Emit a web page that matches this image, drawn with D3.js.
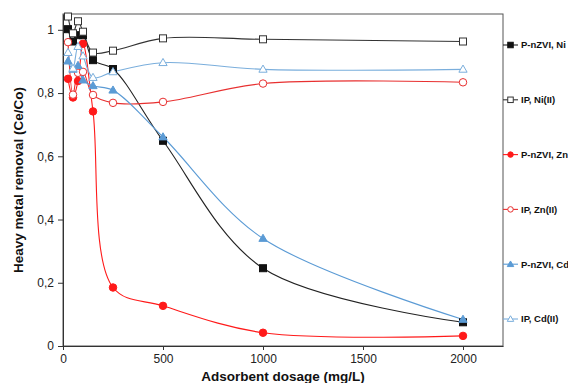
<!DOCTYPE html>
<html>
<head>
<meta charset="utf-8">
<script src="https://cdn.jsdelivr.net/npm/d3@7"></script>
<style>
  body { margin: 0; background: #fff; }
  svg { display: block; font-family: "Liberation Sans", Arial, sans-serif; }
</style>
</head>
<body>
<svg id="chart" width="568" height="383"></svg>
<script>
// dosage (mg/L)
const dosage = [25, 50, 75, 100, 150, 250, 500, 1000, 2000];

// Ce/Co per series
const nzviNi = [1.002, 0.963, 0.983, 0.983, 0.904, 0.876, 0.649, 0.246, 0.075];
const ipNi   = [1.042, 0.989, 1.027, 0.994, 0.928, 0.934, 0.973, 0.970, 0.963];
const nzviZn = [0.845, 0.786, 0.838, 0.956, 0.742, 0.185, 0.127, 0.042, 0.032];
const ipZn   = [0.961, 0.795, 0.864, 0.867, 0.794, 0.769, 0.772, 0.830, 0.834];
const nzviCd = [0.901, 0.875, 0.887, 0.841, 0.823, 0.809, 0.661, 0.340, 0.084];
const ipCd   = [0.928, 0.878, 0.947, 0.917, 0.849, 0.867, 0.896, 0.875, 0.875];

const seriesNames = ["P-nZVI, Ni", "IP, Ni(II)", "P-nZVI, Zn", "IP, Zn(II)", "P-nZVI, Cd", "IP, Cd(II)"];

const xTicks = [0, 500, 1000, 1500, 2000];
const yTicks = [0, 0.2, 0.4, 0.6, 0.8, 1];
const yTickLabels = ["0", "0,2", "0,4", "0,6", "0,8", "1"];

const black = "#111", red = "#ff1a1a", blue = "#5b9bd5";
const series = [
  {name: seriesNames[0], values: nzviNi, color: black, line: "#222", shape: "square", filled: true},
  {name: seriesNames[1], values: ipNi,   color: "#333", line: "#333", shape: "square", filled: false},
  {name: seriesNames[2], values: nzviZn, color: red,   line: red,    shape: "circle", filled: true},
  {name: seriesNames[3], values: ipZn,   color: "#e83030", line: "#e83030", shape: "circle", filled: false},
  {name: seriesNames[4], values: nzviCd, color: blue,  line: blue,   shape: "triangle", filled: true},
  {name: seriesNames[5], values: ipCd,   color: "#7aaedc", line: "#7aaedc", shape: "triangle", filled: false}
];

const svg = d3.select("#chart");
const margin = {top: 14, right: 65, bottom: 37, left: 63};
const width = 568 - margin.left - margin.right;
const height = 383 - margin.top - margin.bottom;

const chart = svg.append("g")
    .attr("transform", `translate(${margin.left},${margin.top})`);

const xScale = d3.scaleLinear().domain([0, 2200]).range([0, width]);
const yScale = d3.scaleLinear().domain([0, 1.05]).range([height, 0]);

// frame
chart.append("rect")
    .attr("width", width).attr("height", height)
    .attr("fill", "none").attr("stroke", "#555").attr("stroke-width", 1);

const xAxis = chart.append("g")
    .attr("transform", `translate(0,${height})`)
    .call(d3.axisBottom(xScale).tickValues(xTicks).tickSize(4).tickPadding(4).tickSizeOuter(0)
        .tickFormat(d3.format("d")));
const yAxis = chart.append("g")
    .call(d3.axisLeft(yScale).tickValues(yTicks).tickSize(5).tickPadding(4).tickSizeOuter(0)
        .tickFormat((d, i) => yTickLabels[i]));

[xAxis, yAxis].forEach(a => {
  a.select(".domain").attr("stroke", "#333");
  a.selectAll(".tick line").attr("stroke", "#333");
  a.selectAll(".tick text").attr("fill", "#222").style("font-size", "12px")
      .style("font-family", "'Liberation Sans', Arial, sans-serif");
});

const line = d3.line()
    .x((d, i) => xScale(dosage[i]))
    .y(d => yScale(d))
    .curve(d3.curveCatmullRom.alpha(0.5));

function drawMarker(g, s, x, y, size) {
  const fill = s.filled ? s.color : "#fff";
  if (s.shape === "square") {
    g.append("rect").attr("x", x - size / 2).attr("y", y - size / 2)
        .attr("width", size).attr("height", size)
        .attr("fill", fill).attr("stroke", s.color).attr("stroke-width", 1);
  } else if (s.shape === "circle") {
    g.append("circle").attr("cx", x).attr("cy", y).attr("r", size / 2)
        .attr("fill", fill).attr("stroke", s.color).attr("stroke-width", 1);
  } else {
    const sym = d3.symbol().type(d3.symbolTriangle).size(size * size * 0.6);
    g.append("path").attr("d", sym())
        .attr("transform", `translate(${x},${y + 0.5})`)
        .attr("fill", fill).attr("stroke", s.color).attr("stroke-width", 1);
  }
}

series.forEach(s => {
  chart.append("path")
      .datum(s.values)
      .attr("fill", "none")
      .attr("stroke", s.line)
      .attr("stroke-width", 1.1)
      .attr("d", line);
});

series.forEach(s => {
  const g = chart.append("g");
  s.values.forEach((v, i) => drawMarker(g, s, xScale(dosage[i]), yScale(v), s.shape === "circle" ? 7.5 : 7));
});

// legend
const legend = svg.append("g");
const legendY = d3.scaleLinear().domain([0, series.length - 1]).range([45, 319]);
series.forEach((s, i) => {
  const y = legendY(i);
  const lx = margin.left + width;
  legend.append("line").attr("x1", lx).attr("x2", lx + 15).attr("y1", y).attr("y2", y)
      .attr("stroke", s.line).attr("stroke-width", 1.1);
  drawMarker(legend, s, lx + 7.5, y, 5.5);
  legend.append("text").attr("x", lx + 18).attr("y", y).attr("dy", "0.35em")
      .style("font-size", "9.5px").style("font-weight", "bold").attr("fill", "#111")
      .text(s.name);
});

// axis titles
svg.append("text")
    .attr("x", margin.left + width / 2)
    .attr("y", 381)
    .attr("text-anchor", "middle")
    .style("font-size", "13.5px").style("font-weight", "bold").attr("fill", "#111")
    .text("Adsorbent dosage (mg/L)");

svg.append("text")
    .attr("transform", `translate(23,${margin.top + height / 2}) rotate(-90)`)
    .attr("text-anchor", "middle")
    .style("font-size", "13.5px").style("font-weight", "bold").attr("fill", "#111")
    .text("Heavy metal removal (Ce/Co)");
</script>
</body>
</html>
